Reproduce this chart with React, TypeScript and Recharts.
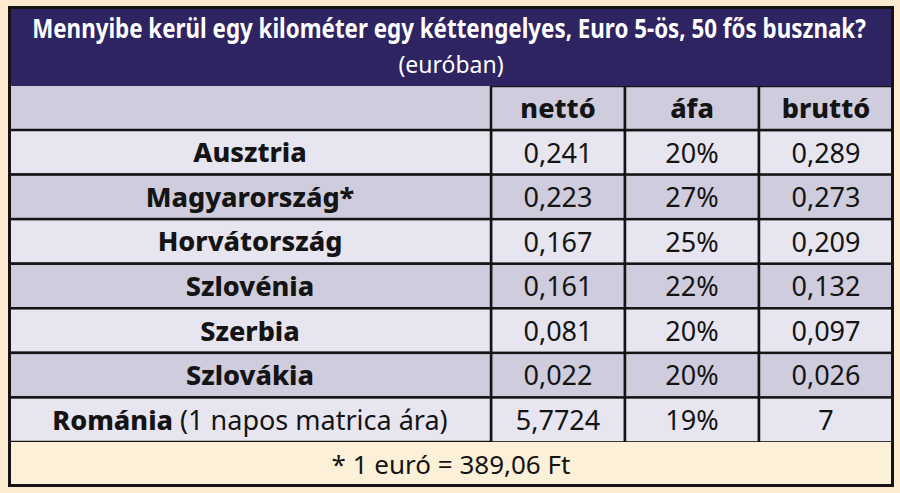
import React from "react";
import { BarChart, Bar, XAxis, YAxis } from "recharts";

const title = "Mennyibe kerül egy kilométer egy kéttengelyes, Euro 5-ös, 50 fős busznak?";
const subtitle = "(euróban)";
const footnote = "* 1 euró = 389,06 Ft";

const headers = ["nettó", "áfa", "bruttó"];
const countries = [
  "Ausztria",
  "Magyarország*",
  "Horvátország",
  "Szlovénia",
  "Szerbia",
  "Szlovákia",
  "Románia (1 napos matrica ára)",
];
const netto = [0.241, 0.223, 0.167, 0.161, 0.081, 0.022, 5.7724];
const afa = [20, 27, 25, 22, 20, 20, 19];
const brutto = [0.289, 0.273, 0.209, 0.132, 0.097, 0.026, 7];

const FONT = "'Noto Sans', sans-serif";
const INK = "#141414";
const LIGHT = "#e7e5ef";
const DARK = "#cfccdd";
const NAVY = "#2e2462";
const CREAM = "#fdf0d8";

const fmt = (v: number) => String(v).replace(".", ",");

const rows = countries.map((country, i) => ({
  country,
  netto: fmt(netto[i]),
  afa: `${afa[i]}%`,
  brutto: fmt(brutto[i]),
  c1: 1,
  c2: 1,
  c3: 1,
}));

const CHART_W = 884;
const CHART_H = 356;
const HEAD_H = 44;
const NAME_W = 482;
const ROW_H = (CHART_H - HEAD_H) / rows.length;

function CountryTick(props: any) {
  const { y, payload, index } = props;
  const label: string = payload.value;
  const cut = label.indexOf(" (");
  const bold = cut >= 0 ? label.slice(0, cut) : label;
  const rest = cut >= 0 ? label.slice(cut) : "";
  return (
    <g>
      <rect
        x={0}
        y={y - ROW_H / 2}
        width={NAME_W}
        height={ROW_H}
        fill={index % 2 === 0 ? LIGHT : DARK}
        stroke={INK}
        strokeWidth={2.5}
      />
      <text
        x={NAME_W / 2}
        y={y + 10}
        textAnchor="middle"
        fontFamily={FONT}
        fontSize={27}
        fill={INK}
      >
        <tspan fontWeight={800}>{bold}</tspan>
        {rest && <tspan fontWeight={400}>{rest}</tspan>}
      </text>
    </g>
  );
}

function HeaderTick(props: any) {
  const { x, index } = props;
  const w = (CHART_W - NAME_W) / 3;
  return (
    <g>
      <rect x={x - w / 2} y={0} width={w} height={HEAD_H} fill={DARK} stroke={INK} strokeWidth={2.5} />
      <text
        x={x}
        y={32}
        textAnchor="middle"
        fontFamily={FONT}
        fontSize={27}
        fontWeight={800}
        fill={INK}
      >
        {headers[index]}
      </text>
    </g>
  );
}

function makeCell(field: "netto" | "afa" | "brutto") {
  return (p: any) => {
    const { x, y, width, height, index, payload } = p;
    return (
      <g>
        <rect
          x={x}
          y={y}
          width={width}
          height={height}
          fill={index % 2 === 0 ? LIGHT : DARK}
          stroke={INK}
          strokeWidth={2.5}
        />
        <text
          x={x + width / 2}
          y={y + height / 2 + 10}
          textAnchor="middle"
          fontFamily={FONT}
          fontSize={27}
          fill={INK}
        >
          {payload[field]}
        </text>
      </g>
    );
  };
}

export default function App() {
  return (
    <div
      style={{
        position: "absolute",
        left: 0,
        top: 0,
        width: 900,
        height: 493,
        background: "#fcebd0",
        overflow: "hidden",
      }}
    >
      <svg width={884} height={80} style={{ position: "absolute", left: 9, top: 7 }}>
        <rect x={0} y={0} width={884} height={80} fill={NAVY} />
        {/* condensed bold title: horizontal squeeze instead of a condensed face */}
        <g transform="translate(440,31) scale(0.86,1)">
          <text
            x={0}
            y={0}
            textAnchor="middle"
            fontFamily={FONT}
            fontSize={26}
            fontWeight={700}
            fill="#ffffff"
          >
            {title}
          </text>
        </g>
        <text
          x={442}
          y={66}
          textAnchor="middle"
          fontFamily={FONT}
          fontSize={23}
          fill="#ffffff"
        >
          {subtitle}
        </text>
      </svg>

      <div style={{ position: "absolute", left: 9, top: 86, width: CHART_W, height: CHART_H, background: DARK }}>
        <BarChart
          width={CHART_W}
          height={CHART_H}
          data={rows}
          layout="vertical"
          margin={{ top: 0, right: 0, bottom: 0, left: 0 }}
          barCategoryGap={0}
        >
          <XAxis
            type="number"
            orientation="top"
            domain={[0, 3]}
            ticks={[0.5, 1.5, 2.5]}
            height={HEAD_H}
            axisLine={false}
            tickLine={false}
            tick={<HeaderTick />}
            interval={0}
          />
          <YAxis
            type="category"
            dataKey="country"
            width={NAME_W}
            axisLine={false}
            tickLine={false}
            tick={<CountryTick />}
            interval={0}
          />
          <Bar dataKey="c1" stackId="row" isAnimationActive={false} shape={makeCell("netto")} />
          <Bar dataKey="c2" stackId="row" isAnimationActive={false} shape={makeCell("afa")} />
          <Bar dataKey="c3" stackId="row" isAnimationActive={false} shape={makeCell("brutto")} />
        </BarChart>
      </div>

      <div
        style={{
          position: "absolute",
          left: 9,
          top: 442,
          width: 884,
          height: 44,
          background: CREAM,
          fontFamily: FONT,
          fontSize: 26,
          color: INK,
          textAlign: "center",
          lineHeight: "44px",
        }}
      >
        {footnote}
      </div>

      <div
        style={{
          position: "absolute",
          left: 8,
          top: 6,
          width: 886,
          height: 481,
          border: `3px solid ${INK}`,
          boxSizing: "border-box",
          pointerEvents: "none",
        }}
      />
    </div>
  );
}
